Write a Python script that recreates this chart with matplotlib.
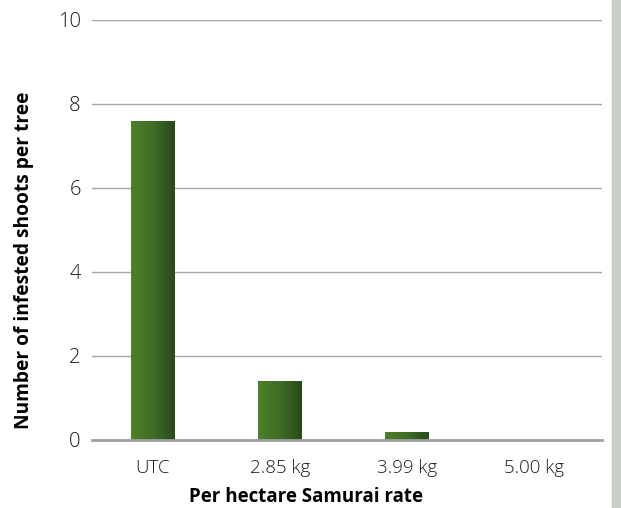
import numpy as np
import matplotlib.pyplot as plt
from matplotlib.patches import FancyBboxPatch, Rectangle
from matplotlib.colors import LinearSegmentedColormap

categories = ['UTC', '2.85 kg', '3.99 kg', '5.00 kg']
shoots = [7.6, 1.4, 0.19, 0.0]
yticks = [0, 2, 4, 6, 8, 10]

plt.rcParams['font.family'] = ['Open Sans', 'DejaVu Sans']

fig = plt.figure(figsize=(6.21, 5.08), dpi=100)
fig.patch.set_facecolor('#c9cfc4')
# white panel with rounded corners over the photo background
panel = FancyBboxPatch((0.0, -0.05), 0.985, 1.1, boxstyle='round,pad=0,rounding_size=0.03',
                       transform=fig.transFigure, facecolor='white', edgecolor='none', zorder=-5)
fig.patches.append(panel)

ax = fig.add_axes([0.148, 0.134, 0.821, 0.827])
ax.set_zorder(2)
ax.set_facecolor('none')

x = np.arange(len(categories))
bars = ax.bar(x, shoots, width=0.346, color='none', zorder=3)

# left-to-right green gradient inside each bar
grad = np.linspace(0, 1, 256).reshape(1, -1)
cmap = LinearSegmentedColormap.from_list('grn', ['#4c8129', '#3f6d25', '#284a1a'])
for b in bars:
    h = b.get_height()
    if h <= 0:
        continue
    x0 = b.get_x()
    w = b.get_width()
    im = ax.imshow(grad, cmap=cmap, aspect='auto', extent=(x0, x0 + w, 0, h), zorder=3)
    im.set_clip_path(Rectangle((x0, 0), w, h, transform=ax.transData))

ax.set_xlim(-0.48, len(categories) - 0.47)
ax.set_ylim(0, 10)
ax.set_yticks(yticks)
ax.set_xticks(x)
ax.set_xticklabels(categories)
ax.yaxis.grid(True, color='#a6a6a6', linewidth=1.0, zorder=1)
ax.set_axisbelow(True)
for s in ['top', 'right', 'left']:
    ax.spines[s].set_visible(False)
ax.spines['bottom'].set_color('#a0a0a0')
ax.spines['bottom'].set_linewidth(2.0)
ax.spines['bottom'].set_zorder(4)
ax.tick_params(axis='both', length=0, colors='#1a1a1a')
ax.tick_params(axis='y', pad=8, labelsize=14.5)
ax.tick_params(axis='x', pad=14, labelsize=13.5)
for lab in ax.get_xticklabels() + ax.get_yticklabels():
    lab.set_fontweight('light')

ax.set_xlabel('Per hectare Samurai rate', fontsize=13.5, fontweight='bold')
ax.set_ylabel('Number of infested shoots per tree', fontsize=13.8, fontweight='bold')
ax.xaxis.set_label_coords(0.42, -0.112)
ax.yaxis.set_label_coords(-0.114, 0.427)

fig.savefig('out.png', dpi=100, facecolor=fig.get_facecolor())
